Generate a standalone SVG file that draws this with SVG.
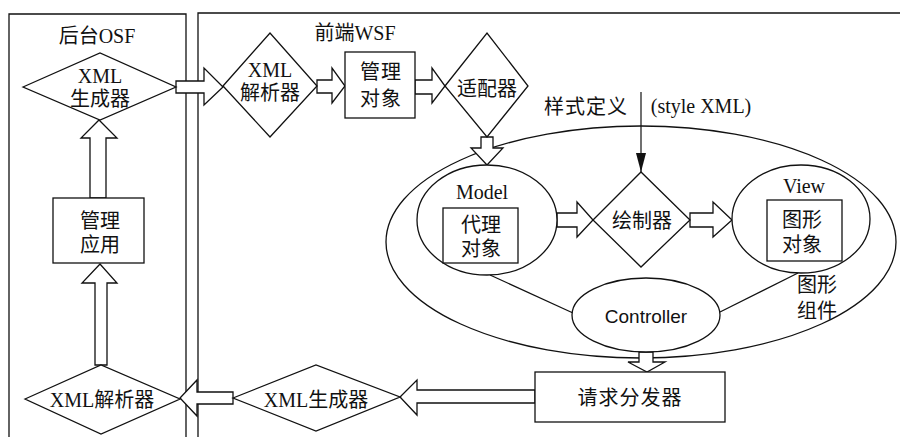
<svg xmlns="http://www.w3.org/2000/svg" width="900" height="437" viewBox="0 0 900 437">
<style>
  .s{fill:none;stroke:#111;stroke-width:1.3}
  .n{fill:#fff;stroke:#111;stroke-width:1.3}
  .blk{fill:#fff;stroke:#111;stroke-width:1.3;stroke-linejoin:miter}
  .ln{fill:none;stroke:#111;stroke-width:1.2}
  text{font-family:"Liberation Serif","Noto Sans CJK SC",serif;font-size:20px;fill:#111;text-anchor:middle}
  .sans{font-family:"Liberation Sans","Noto Sans CJK SC",sans-serif;font-size:19px}
</style>
<defs>
  <marker id="tri" markerWidth="20" markerHeight="12" refX="19" refY="6" orient="auto" markerUnits="userSpaceOnUse" viewBox="0 0 20 12">
    <path d="M0,1 L19,6 L0,11 Z" fill="#111"/>
  </marker>
</defs>
<rect width="900" height="437" fill="#fff"/>

<g id="panels">
  <path class="s" d="M9,437 V14 H186 V437"/>
  <path class="s" d="M198,437 V13 H900"/>
  <text x="97" y="43">后台OSF</text>
  <text x="355" y="40">前端WSF</text>
</g>

<g id="component">
  <ellipse class="s" cx="641" cy="242" rx="255" ry="116"/>
  <text x="817" y="292">图形</text>
  <text x="817" y="318">组件</text>
</g>

<g id="connectors">
  <line class="ln" x1="490" y1="275" x2="573" y2="313"/>
  <line class="ln" x1="798" y1="273" x2="720" y2="312"/>
  <line class="ln" x1="641" y1="92" x2="641" y2="172" marker-end="url(#tri)"/>
  <text x="586" y="114" letter-spacing="1">样式定义</text>
  <text x="701" y="113">(style XML)</text>
  <polygon class="blk" points="176,81 204,81 204,68 223,87 204,105 204,93 176,93"/>
  <polygon class="blk" points="317,80 332,80 332,68 345,86 332,103 332,93 317,93"/>
  <polygon class="blk" points="415,80 432,80 432,68 445,86 432,103 432,94 415,94"/>
  <polygon class="blk" points="481,137 493,137 493,148 503,148 487,165 471,148 481,148"/>
  <polygon class="blk" points="557,213 577,213 577,202 593,220 577,237 577,227 557,227"/>
  <polygon class="blk" points="690,213 713,213 713,202 732,220 713,237 713,227 690,227"/>
  <polygon class="blk" points="639,352 653,352 653,362 665,362 647,372 628,362 639,362"/>
  <polygon class="blk" points="535,390 417,390 417,380 400,397 417,415 417,403 535,403"/>
  <polygon class="blk" points="233,392 197,392 197,380 180,398 197,416 197,404 233,404"/>
  <polygon class="blk" points="95,365 95,283 82,283 100,264 117,283 107,283 107,365"/>
  <polygon class="blk" points="90,198 90,138 81,138 99,120 117,138 106,138 106,198"/>
</g>

<g id="osf-xml-gen">
  <polygon class="n" points="23,87 100,53 176,87 100,120"/>
  <text x="100" y="83">XML</text>
  <text x="100" y="106">生成器</text>
</g>

<g id="wsf-xml-parse">
  <polygon class="n" points="223,86 270,33 317,86 270,137"/>
  <text x="270" y="77">XML</text>
  <text x="270" y="100">解析器</text>
</g>

<g id="mgmt-obj">
  <rect class="n" x="345" y="52" width="70" height="66"/>
  <text x="381" y="79" letter-spacing="1">管理</text>
  <text x="381" y="106" letter-spacing="1">对象</text>
</g>

<g id="adapter">
  <polygon class="n" points="445,86 487,33 528,86 487,137"/>
  <text x="487" y="96">适配器</text>
</g>

<g id="model">
  <ellipse class="n" cx="487" cy="220" rx="70" ry="55"/>
  <text x="482" y="199">Model</text>
  <rect class="n" x="443" y="208" width="75" height="55"/>
  <text x="481" y="232">代理</text>
  <text x="481" y="256">对象</text>
</g>

<g id="renderer">
  <polygon class="n" points="593,220 641,172 690,220 641,267"/>
  <text x="642" y="228">绘制器</text>
</g>

<g id="view">
  <ellipse class="n" cx="801" cy="219" rx="69" ry="54"/>
  <text x="804" y="193">View</text>
  <rect class="n" x="767" y="200" width="75" height="61"/>
  <text x="802" y="227">图形</text>
  <text x="802" y="252">对象</text>
</g>

<g id="controller">
  <ellipse class="n" cx="646" cy="315" rx="74" ry="37"/>
  <text class="sans" x="646" y="323">Controller</text>
</g>

<g id="dispatcher">
  <rect class="n" x="535" y="372" width="190" height="50"/>
  <text x="630" y="405" letter-spacing="1">请求分发器</text>
</g>

<g id="wsf-xml-gen">
  <polygon class="n" points="233,398 316,365 400,397 316,431"/>
  <text x="316" y="407">XML生成器</text>
</g>

<g id="osf-xml-parse">
  <polygon class="n" points="25,399 101,365 180,399 101,434"/>
  <text x="102" y="407">XML解析器</text>
</g>

<g id="mgmt-app">
  <rect class="n" x="53" y="198" width="91" height="65"/>
  <text x="100" y="228">管理</text>
  <text x="100" y="252">应用</text>
</g>
</svg>
